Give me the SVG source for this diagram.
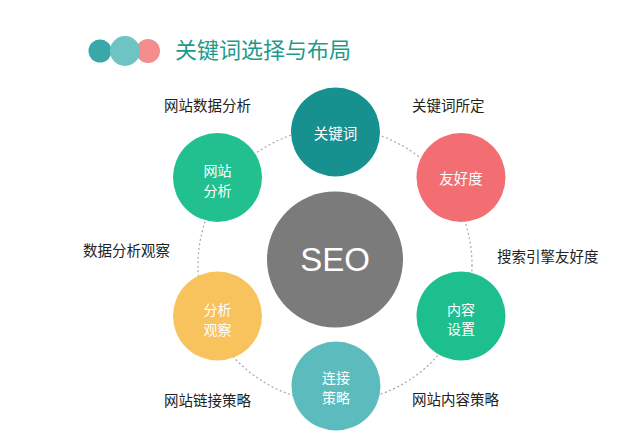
<svg xmlns="http://www.w3.org/2000/svg" width="640" height="447" viewBox="0 0 640 447">
<style>
.lbl{font-family:"Noto Sans CJK SC","Noto Sans",sans-serif;font-size:14.5px;fill:#222;}
.nt{font-family:"Noto Sans CJK SC","Noto Sans",sans-serif;font-size:14.5px;fill:#fff;text-anchor:middle;}
.nt2{font-family:"Noto Sans CJK SC","Noto Sans",sans-serif;font-size:14px;fill:#fff;text-anchor:middle;}
.ttl{font-family:"Noto Sans CJK SC","Noto Sans",sans-serif;font-size:22px;fill:#1e9a8c;}
</style>
<rect width="640" height="447" fill="#fff"/>
<g id="title">
<circle cx="100" cy="51" r="11.5" fill="#3aa8a8"/>
<circle cx="148" cy="51" r="12" fill="#f48d8e"/>
<circle cx="125" cy="51" r="15" fill="#6ec3c3"/>
<text class="ttl" x="175" y="58">关键词选择与布局</text>
</g>
<g id="connectors">
<circle cx="335" cy="265" r="137" fill="none" stroke="#a8a8a8" stroke-width="1.2" stroke-dasharray="2 2.5"/>
</g>
<g id="seo">
<circle cx="335" cy="259.5" r="68" fill="#7b7b7b"/>
<text x="335" y="271" font-family="Liberation Sans, Arial, sans-serif" font-size="33" fill="#fff" text-anchor="middle">SEO</text>
</g>
<g id="n-keyword">
<circle cx="335.5" cy="132" r="44.5" fill="#179090"/>
<text class="nt" x="335.5" y="139">关键词</text>
</g>
<g id="n-analysis">
<circle cx="217.5" cy="177.5" r="44.5" fill="#22c08e"/>
<text class="nt2" x="217.5" y="176">网站</text>
<text class="nt2" x="217.5" y="195.5">分析</text>
</g>
<g id="n-friendly">
<circle cx="461" cy="177.5" r="44.5" fill="#f26e73"/>
<text class="nt" x="461" y="184">友好度</text>
</g>
<g id="n-observe">
<circle cx="217.5" cy="316" r="44.5" fill="#f8c25c"/>
<text class="nt2" x="217.5" y="315">分析</text>
<text class="nt2" x="217.5" y="334.5">观察</text>
</g>
<g id="n-content">
<circle cx="461" cy="316" r="44.5" fill="#1cbf8d"/>
<text class="nt2" x="461" y="315">内容</text>
<text class="nt2" x="461" y="334">设置</text>
</g>
<g id="n-link">
<circle cx="336" cy="386" r="44.5" fill="#5cbcbd"/>
<text class="nt2" x="336" y="383">连接</text>
<text class="nt2" x="336" y="402.5">策略</text>
</g>
<g id="labels">
<text class="lbl" x="164" y="111">网站数据分析</text>
<text class="lbl" x="412" y="111">关键词所定</text>
<text class="lbl" x="83" y="256">数据分析观察</text>
<text class="lbl" x="497" y="262">搜索引擎友好度</text>
<text class="lbl" x="164" y="406">网站链接策略</text>
<text class="lbl" x="412" y="405">网站内容策略</text>
</g>
</svg>
